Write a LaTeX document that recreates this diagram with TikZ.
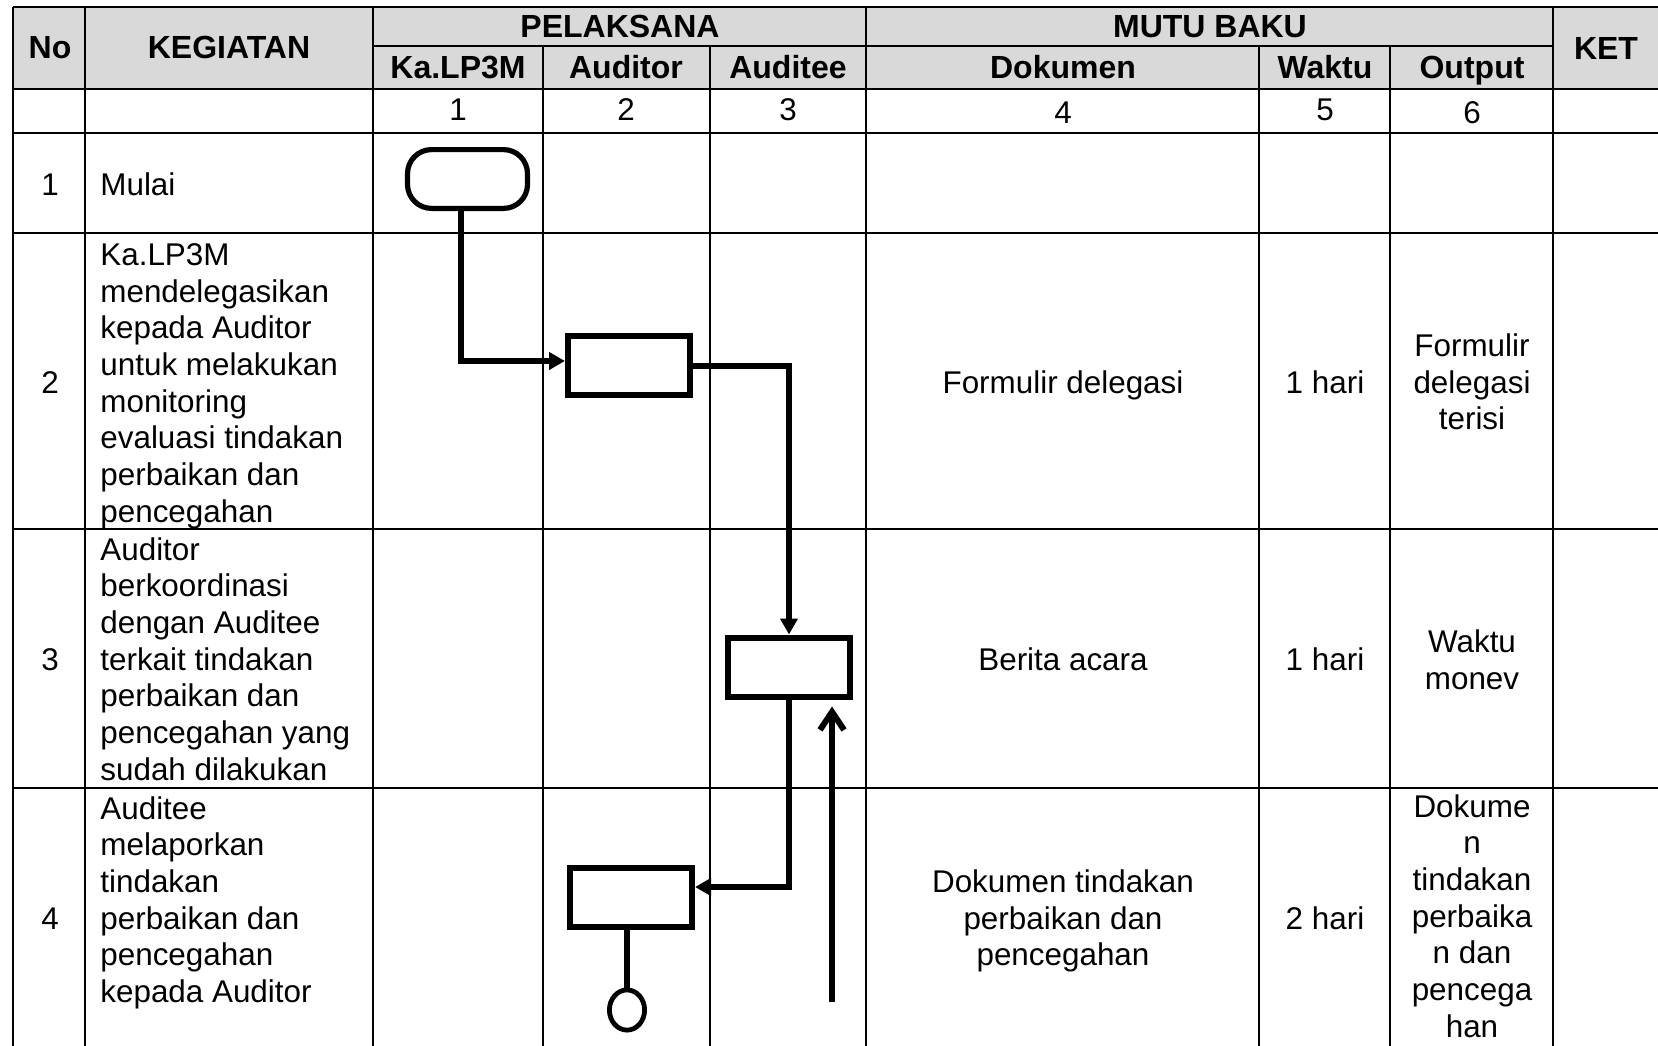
\documentclass[tikz,border=0pt]{standalone}
\usepackage{fontspec}
\setmainfont{Liberation Sans}
\usepackage{xcolor}
\usetikzlibrary{shapes.geometric, arrows.meta, positioning}
\definecolor{hdrgray}{RGB}{217,217,217}
\tikzset{
  font=\fontsize{15.7}{18.35}\selectfont,      % body text everywhere
  tableline/.style  = {line width=1.4pt},
  hdr/.style        = {font=\fontsize{16}{19}\selectfont\bfseries,
                       inner sep=0pt, text height=11.5pt, text depth=0pt},
  cell/.style       = {inner sep=0pt, text height=11.2pt, text depth=0pt},
  multicell/.style  = {inner sep=0pt, align=center},
  kegiatan/.style   = {inner sep=0pt, align=left, anchor=north west},
  terminal/.style   = {rectangle, rounded corners=12pt, draw, line width=2.6pt,
                       minimum width=60pt, minimum height=29.4pt},
  process/.style    = {rectangle, draw, line width=3pt,
                       minimum width=61pt, minimum height=29.5pt},
  connector/.style  = {ellipse, draw, line width=2.4pt, inner sep=0pt,
                       minimum width=17.6pt, minimum height=20.1pt},
  flowline/.style   = {line width=3pt, -{Triangle[length=8pt, width=8.5pt]}},
  returnline/.style = {line width=3pt, -{Straight Barb[length=9pt, width=12pt]}}
}
\begin{document}
\begin{tikzpicture}[x=0.5pt, y=-0.5pt]
  \useasboundingbox (0,0) rectangle (1658,1045);
  \clip (0,0) rectangle (1658,1045);
  % header shading
  \fill[hdrgray] (13,7) rectangle (1670,89);
  % table rules
  \draw[tableline] (13,7) -- (1670,7);
  \draw[tableline] (373,46) -- (1553,46);
  \draw[tableline] (13,89) -- (1670,89);
  \draw[tableline] (13,133) -- (1670,133);
  \draw[tableline] (13,233) -- (1670,233);
  \draw[tableline] (13,529) -- (1670,529);
  \draw[tableline] (13,788) -- (1670,788);
  \draw[tableline] (13,7) -- (13,1050);
  \draw[tableline] (85,7) -- (85,1050);
  \draw[tableline] (373,7) -- (373,1050);
  \draw[tableline] (543,46) -- (543,1050);
  \draw[tableline] (710,46) -- (710,1050);
  \draw[tableline] (866,7) -- (866,1050);
  \draw[tableline] (1259,46) -- (1259,1050);
  \draw[tableline] (1390,46) -- (1390,1050);
  \draw[tableline] (1553,7) -- (1553,1050);

  % header texts
  \node[hdr] (h-no) at (50,47) {No};
  \node[hdr] (h-kegiatan) at (229,47) {KEGIATAN};
  \node[hdr] (h-pelaksana) at (620,26) {PELAKSANA};
  \node[hdr] (h-mutu) at (1210,26) {MUTU BAKU};
  \node[hdr] (h-ket) at (1606,48) {KET};
  \node[hdr] (h-kalp3m) at (458,67) {Ka.LP3M};
  \node[hdr] (h-auditor) at (626,67) {Auditor};
  \node[hdr] (h-auditee) at (788,67) {Auditee};
  \node[hdr] (h-dokumen) at (1063,67) {Dokumen};
  \node[hdr] (h-waktu) at (1325,67) {Waktu};
  \node[hdr] (h-output) at (1472,67) {Output};

  % column numbers
  \node[cell] (n-1) at (458,109) {1};
  \node[cell] (n-2) at (626,109) {2};
  \node[cell] (n-3) at (788,109) {3};
  \node[cell] (n-4) at (1063,112) {4};
  \node[cell] (n-5) at (1325,109) {5};
  \node[cell] (n-6) at (1472,112) {6};

  % row numbers and activities
  \node[cell] (r-1) at (50,184) {1};
  \node[cell] (r-2) at (50,382) {2};
  \node[cell] (r-3) at (50,659) {3};
  \node[cell] (r-4) at (50,918) {4};
  \node[cell, anchor=west] (k-1) at (100,184) {Mulai};
  \node[kegiatan] (k-2) at (100,243) {Ka.LP3M\\mendelegasikan\\kepada Auditor\\untuk melakukan\\monitoring\\evaluasi tindakan\\perbaikan dan\\pencegahan};
  \node[kegiatan] (k-3) at (100,537) {Auditor\\berkoordinasi\\dengan Auditee\\terkait tindakan\\perbaikan dan\\pencegahan yang\\sudah dilakukan};
  \node[kegiatan] (k-4) at (100,796) {Auditee\\melaporkan\\tindakan\\perbaikan dan\\pencegahan\\kepada Auditor};

  % mutu baku
  \node[cell] (d-2) at (1063,382) {Formulir delegasi};
  \node[cell] (d-3) at (1063,659) {Berita acara};
  \node[multicell] (d-4) at (1063,921) {Dokumen tindakan\\perbaikan dan\\pencegahan};
  \node[cell] (w-2) at (1325,382) {1 hari};
  \node[cell] (w-3) at (1325,659) {1 hari};
  \node[cell] (w-4) at (1325,918) {2 hari};
  \node[multicell] (o-2) at (1472,382) {Formulir\\delegasi\\terisi};
  \node[multicell] (o-3) at (1472,659.5) {Waktu\\monev};
  \node[multicell] (o-4) at (1472,916) {Dokume\\n\\tindakan\\perbaika\\n dan\\pencega\\han};

  % flow shapes
  \node[terminal] (start) at (467.5,179) {};
  \node[process] (delegasi) at (629,365.5) {};
  \node[process] (koordinasi) at (789,667) {};
  \node[process] (lapor) at (631,897.5) {};
  \node[connector] (konektor) at (627,1010) {};
  \coordinate (balik) at (832,1002);

  % connectors
  \draw[flowline] ([xshift=-3.25pt]start.south) |- ([yshift=2.25pt]delegasi.west);
  \draw[flowline] (delegasi.east) -| (koordinasi.north);
  \draw[flowline] (koordinasi.south) |- ([yshift=5.25pt]lapor.east);
  \draw[line width=3pt] (konektor.north |- lapor.south) -- (konektor.north);
  \draw[returnline, shorten >=3.5pt] (balik) -- (balik |- koordinasi.south);
\end{tikzpicture}
\end{document}
